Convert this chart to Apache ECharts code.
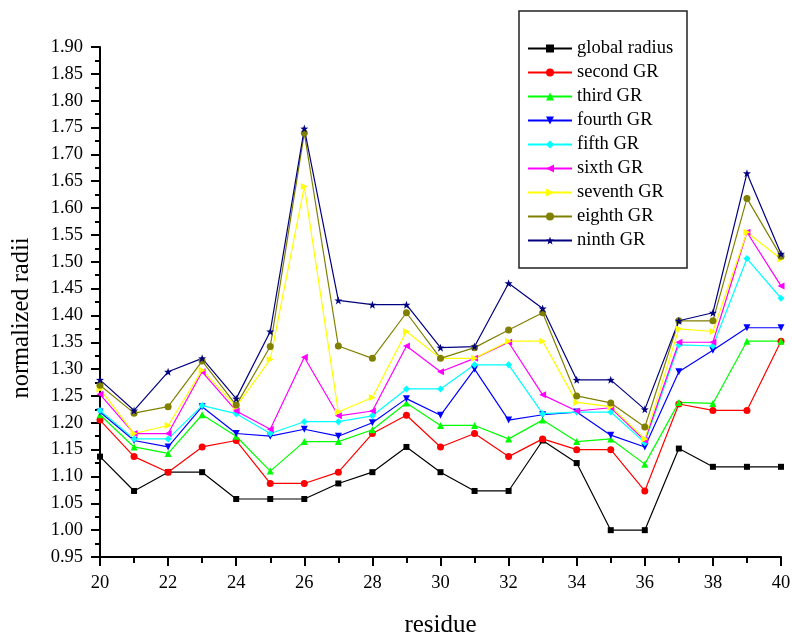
<!DOCTYPE html>
<html>
<head>
<meta charset="utf-8">
<script src="https://cdn.jsdelivr.net/npm/echarts@6/dist/echarts.min.js"></script>
<style>
  html, body { margin: 0; padding: 0; background: #fff; }
  #chart { width: 792px; height: 633px; }
</style>
</head>
<body>
<div id="chart"></div>
<script>
var chart = echarts.init(document.getElementById('chart'));

var residues = [20, 21, 22, 23, 24, 25, 26, 27, 28, 29, 30, 31, 32, 33, 34, 35, 36, 37, 38, 39, 40];
var seriesNames = ['global radius', 'second GR', 'third GR', 'fourth GR', 'fifth GR',
                   'sixth GR', 'seventh GR', 'eighth GR', 'ninth GR'];

var globalRadius = [1.137, 1.073, 1.108, 1.108, 1.058, 1.058, 1.058, 1.087, 1.108, 1.155, 1.108,
                    1.073, 1.073, 1.167, 1.125, 1.000, 1.000, 1.152, 1.118, 1.118, 1.118];
var secondGR = [1.205, 1.137, 1.108, 1.155, 1.167, 1.087, 1.087, 1.108, 1.180, 1.214, 1.155,
                1.180, 1.137, 1.170, 1.150, 1.150, 1.073, 1.235, 1.223, 1.223, 1.352];
var thirdGR = [1.215, 1.155, 1.143, 1.215, 1.175, 1.110, 1.165, 1.165, 1.187, 1.237, 1.195,
               1.195, 1.170, 1.205, 1.165, 1.170, 1.123, 1.238, 1.236, 1.352, 1.352];
var fourthGR = [1.220, 1.167, 1.155, 1.230, 1.180, 1.175, 1.188, 1.175, 1.200, 1.245, 1.214,
                1.300, 1.205, 1.215, 1.220, 1.177, 1.155, 1.295, 1.335, 1.377, 1.377];
var fifthGR = [1.223, 1.170, 1.170, 1.232, 1.217, 1.180, 1.202, 1.202, 1.213, 1.263, 1.263,
               1.308, 1.308, 1.217, 1.220, 1.220, 1.163, 1.345, 1.343, 1.506, 1.432];
var sixthGR = [1.253, 1.180, 1.180, 1.295, 1.222, 1.188, 1.322, 1.213, 1.222, 1.343, 1.295,
               1.320, 1.350, 1.252, 1.222, 1.228, 1.167, 1.350, 1.350, 1.555, 1.455];
var seventhGR = [1.263, 1.180, 1.195, 1.298, 1.230, 1.318, 1.640, 1.220, 1.247, 1.370, 1.320,
                 1.320, 1.352, 1.352, 1.238, 1.230, 1.170, 1.375, 1.370, 1.555, 1.505];
var eighthGR = [1.270, 1.218, 1.230, 1.315, 1.233, 1.342, 1.740, 1.343, 1.320, 1.405, 1.320,
                1.340, 1.373, 1.405, 1.250, 1.237, 1.192, 1.390, 1.390, 1.618, 1.510];
var ninthGR = [1.280, 1.223, 1.295, 1.320, 1.245, 1.370, 1.748, 1.428, 1.420, 1.420, 1.340,
               1.342, 1.460, 1.413, 1.280, 1.280, 1.225, 1.390, 1.405, 1.665, 1.515];

var allValues = [globalRadius, secondGR, thirdGR, fourthGR, fifthGR, sixthGR, seventhGR, eighthGR, ninthGR];
var colors = ['#000000', '#ff0000', '#00ff00', '#0000ff', '#00ffff', '#ff00ff', '#ffff00', '#808000', '#000080'];

var star = 'path://M0,-10L2.35,-3.24L9.51,-3.09L3.8,1.24L5.88,8.09L0,4L-5.88,8.09L-3.8,1.24L-9.51,-3.09L-2.35,-3.24Z';
var symbols = ['rect', 'circle', 'triangle', 'triangle', 'diamond', 'triangle', 'triangle', 'circle', star];
var rotations = [0, 0, 0, 180, 0, 90, -90, 0, 0];
var sizes = [6, 7, 7, 7, 7, 7, 7, 7, 8];

var font = '"Liberation Serif", "DejaVu Serif", serif';

var series = seriesNames.map(function (name, i) {
    return {
        name: name,
        type: 'line',
        data: residues.map(function (r, k) { return [r, allValues[i][k]]; }),
        symbol: symbols[i],
        symbolRotate: rotations[i],
        symbolSize: sizes[i],
        showAllSymbol: true,
        color: colors[i],
        lineStyle: { width: 1.2, color: colors[i] },
        itemStyle: { color: colors[i] },
        emphasis: { disabled: true },
        animation: false
    };
});

var option = {
    backgroundColor: '#fff',
    grid: { left: 100, right: 11, top: 47, bottom: 76, outerBoundsMode: 'none', containLabel: false },
    xAxis: {
        type: 'value',
        min: 20,
        max: 40,
        interval: 2,
        name: 'residue',
        nameLocation: 'middle',
        nameGap: 56,
        nameTextStyle: { fontFamily: font, fontSize: 25, color: '#000' },
        axisLine: { lineStyle: { color: '#000', width: 2 } },
        axisTick: { length: 9, lineStyle: { width: 2, color: '#000' } },
        minorTick: { show: true, splitNumber: 2, length: 6, lineStyle: { width: 2, color: '#000' } },
        splitLine: { show: false },
        axisLabel: { fontFamily: font, fontSize: 18.5, color: '#000', margin: 17 }
    },
    yAxis: {
        type: 'value',
        min: 0.95,
        max: 1.90,
        interval: 0.05,
        name: 'normalized radii',
        nameLocation: 'middle',
        nameGap: 66,
        nameRotate: 90,
        nameTextStyle: { fontFamily: font, fontSize: 24.5, color: '#000', padding: [0, 32, 0, 0] },
        axisLine: { show: true, lineStyle: { color: '#000', width: 2 } },
        axisTick: { show: true, length: 9, lineStyle: { width: 2, color: '#000' } },
        minorTick: { show: true, splitNumber: 2, length: 5, lineStyle: { width: 2, color: '#000' } },
        splitLine: { show: false },
        axisLabel: {
            fontFamily: font, fontSize: 18.5, color: '#000', margin: 17,
            formatter: function (v) { return v.toFixed(2); }
        }
    },
    legend: {
        orient: 'vertical',
        left: 522,
        top: 34,
        itemWidth: 44,
        itemHeight: 10,
        itemGap: 5,
        textStyle: { fontFamily: font, fontSize: 18.5, color: '#000' },
        data: seriesNames
    },
    graphic: [{
        type: 'rect',
        shape: { x: 519, y: 11, width: 168, height: 257 },
        style: { fill: 'none', stroke: '#222', lineWidth: 1.5 },
        z: 100
    }],
    series: series
};

chart.setOption(option);
window.onresize = chart.resize;
</script>
</body>
</html>
